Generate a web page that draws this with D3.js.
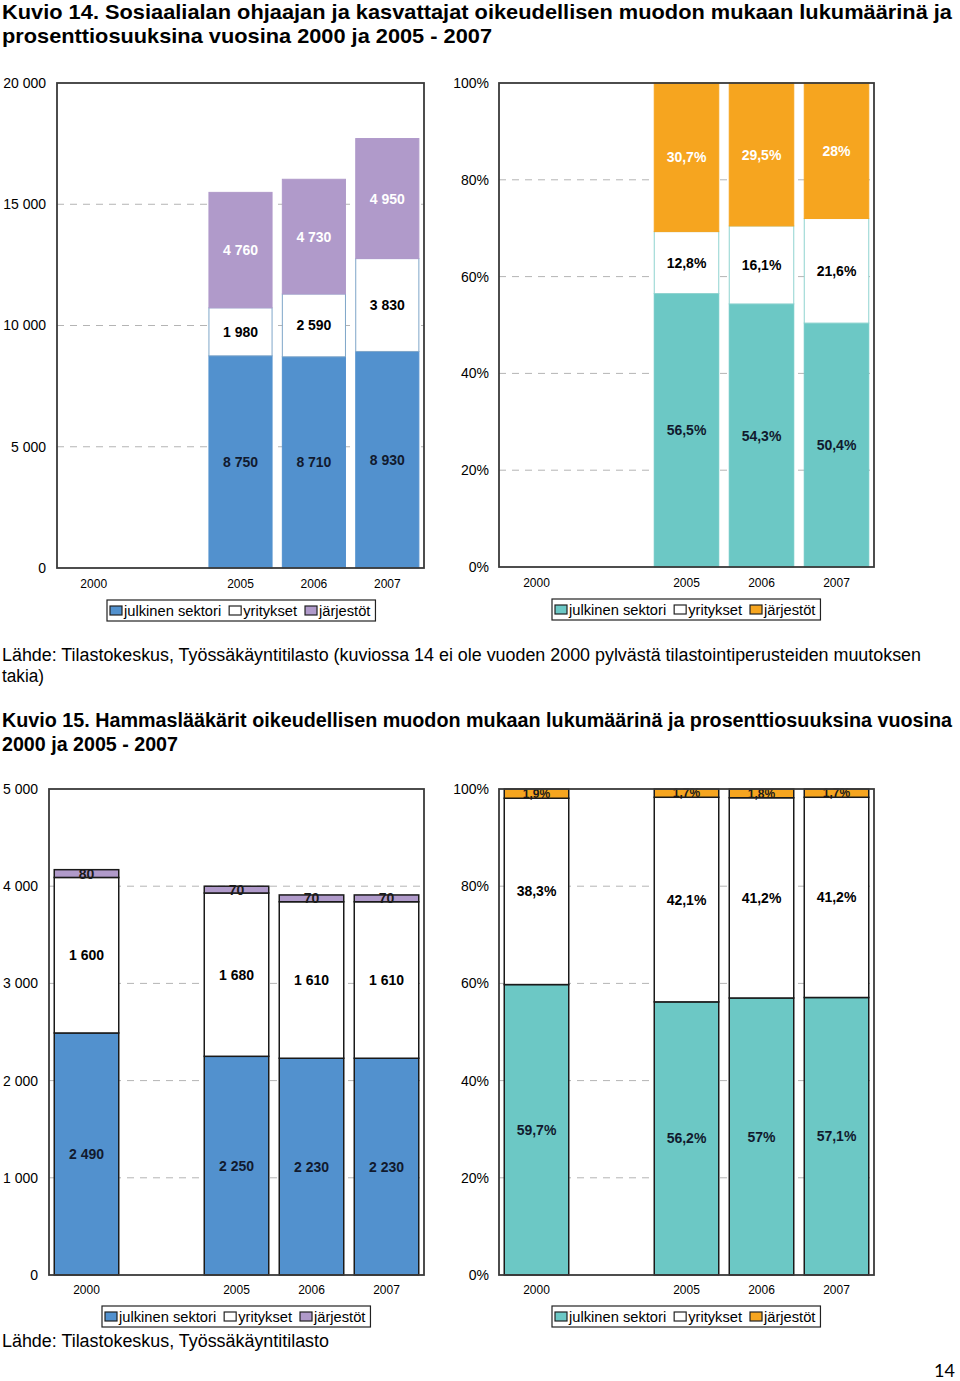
<!DOCTYPE html>
<html><head><meta charset="utf-8">
<script src="https://cdn.jsdelivr.net/npm/d3@7"></script>
<style>body{margin:0;background:#fff} svg{display:block;font-family:"Liberation Sans",Arial,Helvetica,sans-serif}</style>
</head><body>
<script>
// ---- Data ----
const slots = ["2000", "gap", "2005", "2006", "2007"];
const years = ["2000", "2005", "2006", "2007"];
const seriesNames = ["julkinen sektori", "yritykset", "järjestöt"];

// Kuvio 14 – counts (no 2000 data)
const k14Julkinen = [null, 8750, 8710, 8930];
const k14Yritykset = [null, 1980, 2590, 3830];
const k14Jarjestot = [null, 4760, 4730, 4950];
// Kuvio 14 – percentages
const k14JulkinenPct = [null, 56.5, 54.3, 50.4];
const k14YrityksetPct = [null, 12.8, 16.1, 21.6];
const k14JarjestotPct = [null, 30.7, 29.5, 28];

// Kuvio 15 – counts
const k15Julkinen = [2490, 2250, 2230, 2230];
const k15Yritykset = [1600, 1680, 1610, 1610];
const k15Jarjestot = [80, 70, 70, 70];
// Kuvio 15 – percentages
const k15JulkinenPct = [59.7, 56.2, 57, 57.1];
const k15YrityksetPct = [38.3, 42.1, 41.2, 41.2];
const k15JarjestotPct = [1.9, 1.7, 1.8, 1.7];

const countTicks14 = [0, 5000, 10000, 15000, 20000];
const countTicks15 = [0, 1000, 2000, 3000, 4000, 5000];
const pctTicks = [0, 20, 40, 60, 80, 100];

const colBlue = "#5291ce", colPurple = "#b09aca", colTeal = "#6cc8c5", colOrange = "#f6a51f";

// ---- Helpers ----
const fi = d3.formatLocale({decimal: ",", thousands: " ", grouping: [3], currency: ["", ""]});
const fmtCount = fi.format(",");
const fmtPct = v => String(v).replace(".", ",") + "%";

const W = 960, H = 1381;
const svg = d3.select("body").append("svg").attr("width", W).attr("height", H);

function text(x, y, str, opts = {}) {
  const t = svg.append("text").attr("x", x).attr("y", y).text(str)
    .attr("font-size", opts.size || 14)
    .attr("font-weight", opts.bold ? "bold" : "normal")
    .attr("fill", opts.fill || "#000")
    .attr("text-anchor", opts.anchor || "start");
  if (opts.family) t.attr("font-family", opts.family);
  if (opts.len) t.attr("textLength", opts.len).attr("lengthAdjust", "spacingAndGlyphs");
  return t;
}

function drawChart(cfg) {
  const x = d3.scaleBand().domain(slots).range([cfg.x0, cfg.x1]).paddingInner(0.14).paddingOuter(0.07);
  const y = d3.scaleLinear().domain([0, cfg.max]).range([cfg.y1, cfg.y0]);
  const g = svg.append("g");

  // gridlines
  g.selectAll("line.grid").data(cfg.ticks.filter(t => t > 0 && t < cfg.max)).join("line")
    .attr("x1", cfg.x0).attr("x2", cfg.x1)
    .attr("y1", d => y(d)).attr("y2", d => y(d))
    .attr("stroke", "#b4b4b4").attr("stroke-width", 1).attr("stroke-dasharray", "7,6");

  // stacks
  const rows = years.map((yr, i) => ({yr, vals: cfg.series.map(s => s.values[i])}))
    .filter(r => r.vals[0] != null);

  rows.forEach(r => {
    const total = d3.sum(r.vals);
    const k = cfg.normalize ? cfg.max / total : 1;
    let acc = 0;
    r.vals.forEach((v, si) => {
      const s = cfg.series[si];
      const lo = acc * k, hi = (acc + v) * k;
      acc += v;
      g.append("rect")
        .attr("x", x(r.yr)).attr("width", x.bandwidth())
        .attr("y", y(hi)).attr("height", y(lo) - y(hi))
        .attr("fill", s.color)
        .attr("stroke", cfg.stroke || s.stroke || "none")
        .attr("stroke-width", cfg.strokeWidth || 1);
    });
    acc = 0;
    r.vals.forEach((v, si) => {
      const s = cfg.series[si];
      const mid = (acc + v / 2) * k;
      acc += v;
      g.append("text")
        .attr("x", x(r.yr) + x.bandwidth() / 2).attr("y", y(mid))
        .attr("dy", "0.36em").attr("text-anchor", "middle")
        .attr("font-size", s.labelSize || 14).attr("font-weight", "bold")
        .attr("fill", s.labelColor)
        .text(cfg.labelFmt(v));
    });
  });

  // plot frame
  g.append("rect").attr("x", cfg.x0).attr("y", cfg.y0)
    .attr("width", cfg.x1 - cfg.x0).attr("height", cfg.y1 - cfg.y0)
    .attr("fill", "none").attr("stroke", "#3a3a3a").attr("stroke-width", 1.8);

  // y axis
  const ya = d3.axisLeft(y).tickValues(cfg.ticks).tickSize(0).tickPadding(0).tickFormat(cfg.tickFmt);
  const yg = svg.append("g").attr("transform", `translate(${cfg.yLabelX},0)`).call(ya);
  yg.select(".domain").remove();
  yg.selectAll("text").attr("font-size", 14).attr("fill", "#000")
    .attr("font-family", "Liberation Sans, Arial, sans-serif");

  // x axis
  const xa = d3.axisBottom(x).tickSize(0).tickPadding(0).tickFormat(d => d === "gap" ? "" : d);
  const xg = svg.append("g").attr("transform", `translate(0,${cfg.y1 + cfg.xLabelDy})`).call(xa);
  xg.select(".domain").remove();
  xg.selectAll("text").attr("font-size", 12).attr("fill", "#000")
    .attr("font-family", "Liberation Sans, Arial, sans-serif");

  // legend
  const lg = svg.append("g").attr("transform", `translate(${cfg.legend.x},${cfg.legend.y})`);
  let cx = 3;
  cfg.series.forEach((s, i) => {
    lg.append("rect").attr("x", cx).attr("y", 6).attr("width", 12).attr("height", 9)
      .attr("fill", s.color).attr("stroke", "#222").attr("stroke-width", 1.2);
    const t = lg.append("text").attr("x", cx + 14).attr("y", 16).attr("font-size", 14.7)
      .attr("fill", "#000").text(seriesNames[i]);
    cx += 14 + t.node().getComputedTextLength() + 8;
  });
  lg.insert("rect", ":first-child").attr("x", 0).attr("y", 0).attr("width", cx - 3).attr("height", 21)
    .attr("fill", "#fff").attr("stroke", "#222").attr("stroke-width", 1.2);
}

// ---- Titles & texts ----
text(2, 19, "Kuvio 14. Sosiaalialan ohjaajan ja kasvattajat oikeudellisen muodon mukaan lukumäärinä ja", {size: 20.5, bold: true, len: 950});
text(2, 43, "prosenttiosuuksina vuosina 2000 ja 2005 - 2007", {size: 20.5, bold: true, len: 490});

drawChart({
  x0: 57, x1: 424, y0: 83, y1: 568, max: 20000, ticks: countTicks14, tickFmt: fmtCount,
  yLabelX: 46, xLabelDy: 11, labelFmt: fmtCount,
  series: [
    {values: k14Julkinen, color: colBlue, stroke: colBlue, labelColor: "#111a2e"},
    {values: k14Yritykset, color: "#fff", stroke: "#7fa6c9", labelColor: "#000"},
    {values: k14Jarjestot, color: colPurple, stroke: colPurple, labelColor: "#fff"}
  ],
  legend: {x: 107, y: 600}
});
drawChart({
  x0: 499, x1: 874, y0: 83, y1: 567, max: 100, ticks: pctTicks, tickFmt: d => d + "%",
  yLabelX: 489, xLabelDy: 11, labelFmt: fmtPct, normalize: true,
  series: [
    {values: k14JulkinenPct, color: colTeal, stroke: colTeal, labelColor: "#111a2e"},
    {values: k14YrityksetPct, color: "#fff", stroke: "#8fd3d0", labelColor: "#000"},
    {values: k14JarjestotPct, color: colOrange, stroke: colOrange, labelColor: "#fff"}
  ],
  legend: {x: 552, y: 599}
});

text(2, 661, "Lähde: Tilastokeskus, Työssäkäyntitilasto (kuviossa 14 ei ole vuoden 2000 pylvästä tilastointiperusteiden muutoksen", {size: 18, len: 919});
text(2, 682, "takia)", {size: 18, len: 42});

text(2, 727, "Kuvio 15. Hammaslääkärit oikeudellisen muodon mukaan lukumäärinä ja prosenttiosuuksina vuosina", {size: 19.5, bold: true, len: 950});
text(2, 751, "2000 ja 2005 - 2007", {size: 20.5, bold: true, len: 176});

drawChart({
  x0: 49, x1: 424, y0: 789, y1: 1275, max: 5000, ticks: countTicks15, tickFmt: fmtCount,
  yLabelX: 38, xLabelDy: 10, labelFmt: fmtCount, stroke: "#1a1a1a", strokeWidth: 1.5,
  series: [
    {values: k15Julkinen, color: colBlue, labelColor: "#111a2e"},
    {values: k15Yritykset, color: "#fff", labelColor: "#000"},
    {values: k15Jarjestot, color: colPurple, labelColor: "#1a1a1a"}
  ],
  legend: {x: 102, y: 1306}
});
drawChart({
  x0: 499, x1: 874, y0: 789, y1: 1275, max: 100, ticks: pctTicks, tickFmt: d => d + "%",
  yLabelX: 489, xLabelDy: 10, labelFmt: fmtPct, normalize: true, stroke: "#1a1a1a", strokeWidth: 1.5,
  series: [
    {values: k15JulkinenPct, color: colTeal, labelColor: "#111a2e"},
    {values: k15YrityksetPct, color: "#fff", labelColor: "#000"},
    {values: k15JarjestotPct, color: colOrange, labelColor: "#1a1a1a", labelSize: 12}
  ],
  legend: {x: 552, y: 1306}
});

text(2, 1347, "Lähde: Tilastokeskus, Työssäkäyntitilasto", {size: 18, len: 327});
text(955, 1377, "14", {size: 18, anchor: "end", family: "Lato, 'Open Sans', sans-serif"});
</script>
</body></html>
